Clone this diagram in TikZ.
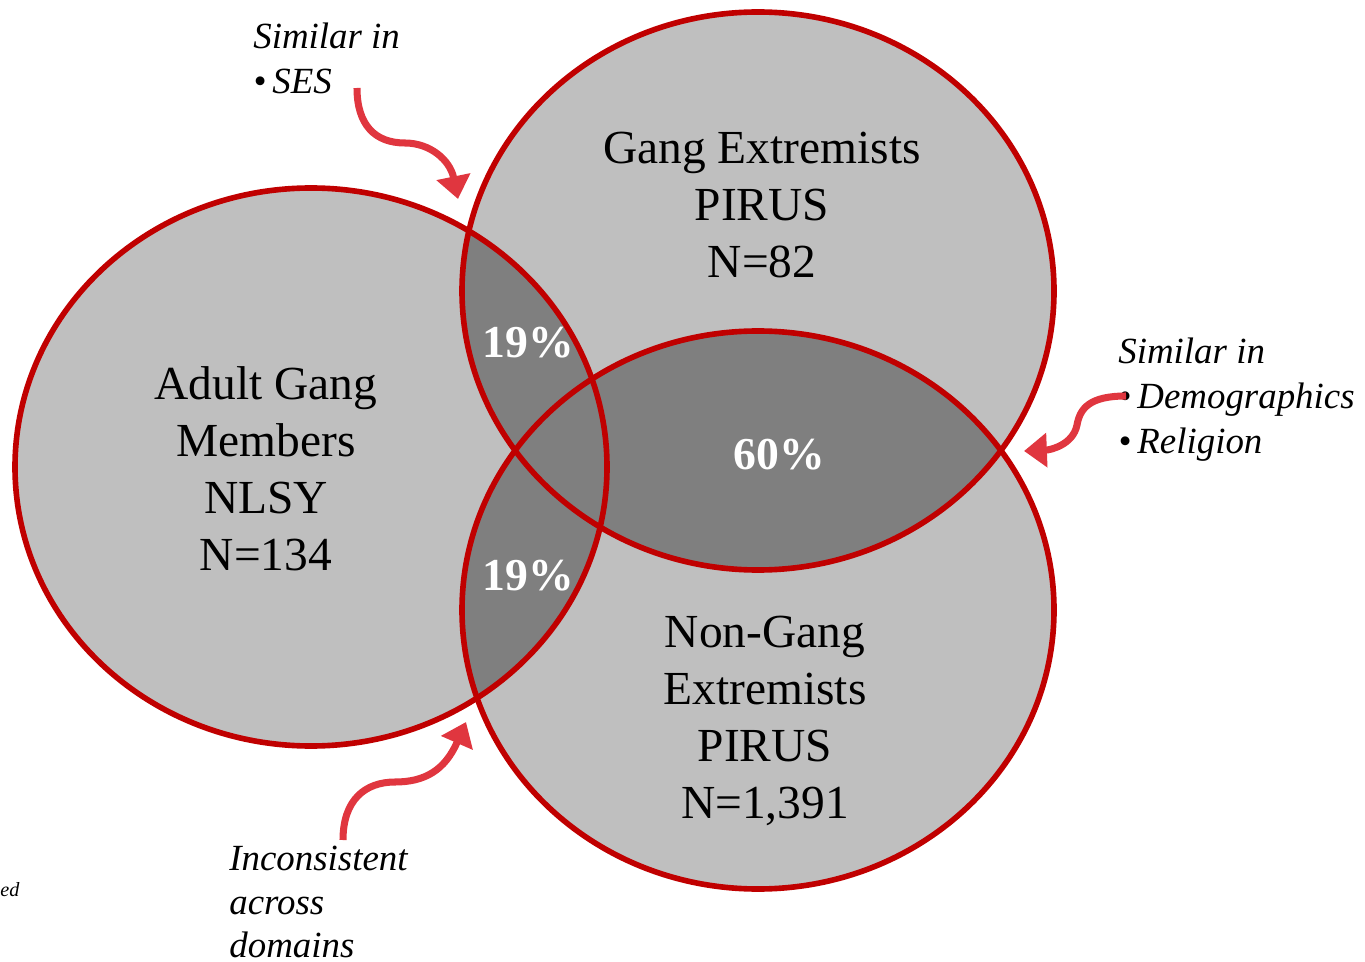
\documentclass[tikz,border=0pt]{standalone}
\usepackage{fontspec}
\setmainfont{Liberation Serif}
\usetikzlibrary{arrows.meta}

\definecolor{ringred}{HTML}{C00000}
\definecolor{arrowred}{HTML}{E0363F}
\definecolor{lightfill}{HTML}{BFBFBF}
\definecolor{darkfill}{HTML}{7F7F7F}

\begin{document}
\begin{tikzpicture}[x=0.02cm, y=-0.02cm,
    setname/.style={align=center, font=\fontsize{27}{32.4}\selectfont},
    share/.style={text=white, font=\bfseries\fontsize{26}{28}\selectfont},
    remark/.style={align=left, anchor=north west, inner sep=0pt, font=\itshape\fontsize{21}{25.6}\selectfont},
    hint/.style={arrowred, line width=4pt, -{Triangle[length=13pt, width=19pt]}}
]

    % Frame of the picture
    \useasboundingbox (0,0) rectangle (1365,962);

    % Centers and radii of the sets
    \def\rx{296}
    \def\ry{279}
    \coordinate (adult) at (311,467);
    \coordinate (gang) at (758,291);
    \coordinate (nongang) at (758,610);

    % Fill sets
    \foreach \c in {adult, gang, nongang}
        \fill[lightfill] (\c) ellipse [x radius=\rx, y radius=\ry];

    % Overlaps
    \foreach \a/\b in {adult/gang, adult/nongang, gang/nongang} {
        \begin{scope}
            \clip (\a) ellipse [x radius=\rx, y radius=\ry];
            \fill[darkfill] (\b) ellipse [x radius=\rx, y radius=\ry];
        \end{scope}
    }

    % Outlines
    \foreach \c in {adult, gang, nongang}
        \draw[ringred, line width=3.2pt] (\c) ellipse [x radius=\rx, y radius=\ry];

    % Set labels
    \node[setname] (adultlbl) at (266,469) {Adult Gang\\Members\\NLSY\\N=134};
    \node[setname] (ganglbl) at (762,205) {Gang Extremists\\PIRUS\\N=82};
    \node[setname] (nonganglbl) at (765,721) {Non-Gang\\Extremists\\PIRUS\\N=1,391};

    % Shares
    \node[share] (pctgang) at (528,343) {19\%};
    \node[share] (pctnongang) at (528,576) {19\%};
    \node[share] (pctboth) at (779,455) {60\%};

    % Remarks
    \node[remark] (ses) at (253,23) {Similar in\\•\,SES};
    \node[remark] (demo) at (1118,338) {Similar in\\•\,Demographics\\•\,Religion};
    \node[remark, font=\itshape\fontsize{21}{24.6}\selectfont] (incons) at (229,846) {Inconsistent\\across\\domains};
    \node[anchor=west, inner sep=0pt, font=\itshape\fontsize{11.5}{13}\selectfont] (cut) at (0,890) {ed};

    % Arrows
    \coordinate (sestail) at (357,88);
    \coordinate (sestip) at (458,199);
    \coordinate (demotail) at (1126,396);
    \coordinate (demotip) at (1024,451);
    \coordinate (inconstail) at (343,840);
    \coordinate (inconstip) at (466,722);
    \draw[hint] (sestail) .. controls (357,125) and (375,143) .. (405,143)
        .. controls (430,143) and (450,160) .. (sestip);
    \draw[hint] (demotail) .. controls (1090,396) and (1080,408) .. (1077,425)
        .. controls (1073,445) and (1050,450) .. (demotip);
    \draw[hint] (inconstail) .. controls (343,800) and (365,782) .. (395,782)
        .. controls (425,782) and (445,770) .. (inconstip);

\end{tikzpicture}
\end{document}
